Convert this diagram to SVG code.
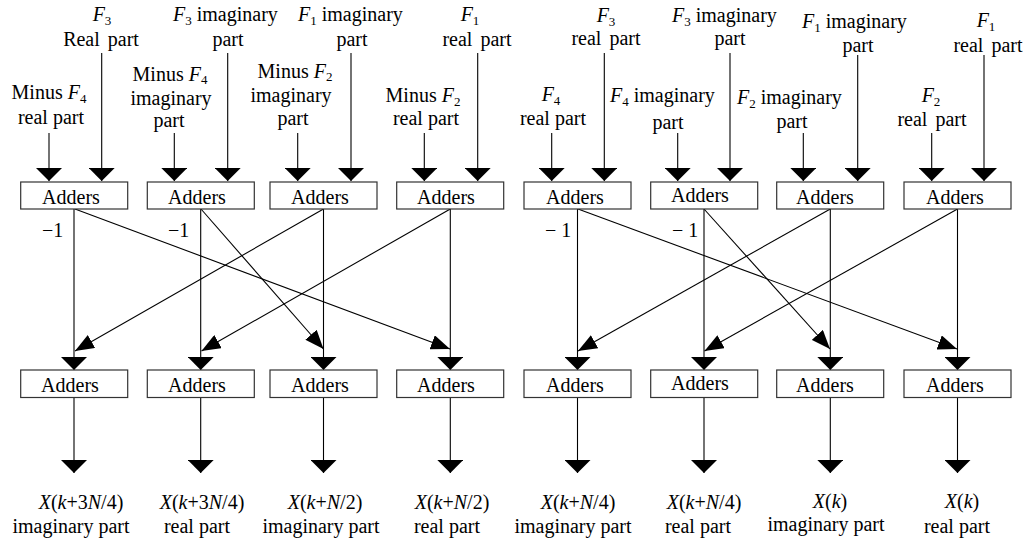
<svg xmlns="http://www.w3.org/2000/svg" width="1027" height="547" viewBox="0 0 1027 547">
<style>
.t{font-family:"Liberation Serif","Times New Roman",serif;font-size:20px;fill:#000}
.m{text-anchor:middle}
.i{font-style:italic}
.s{font-size:13px}
.box{fill:#fff;stroke:#333;stroke-width:1.2}
.ln{stroke:#000;stroke-width:1.1;fill:none}
.v{marker-end:url(#ah)}
.d{marker-end:url(#ad)}
</style>
<defs>
<marker id="ah" viewBox="0 0 13 26" refX="13" refY="13" markerWidth="13" markerHeight="26" markerUnits="userSpaceOnUse" orient="auto"><path d="M0,0 L13,13 L0,26 z" fill="#000"/></marker>
<marker id="ad" viewBox="0 0 19 15" refX="19" refY="7.5" markerWidth="19" markerHeight="15" markerUnits="userSpaceOnUse" orient="auto"><path d="M0,0 L19,7.5 L0,15 z" fill="#000"/></marker>
</defs>
<rect width="1027" height="547" fill="#fff"/>

<g id="input-labels" class="t">
<g id="in-1">
<text x="102" y="21" class="m"><tspan class="i">F</tspan><tspan class="s" dy="4">3</tspan></text>
<text x="101" y="46" class="m" word-spacing="3">Real part</text>
<text x="49" y="99" class="m">Minus <tspan class="i">F</tspan><tspan class="s" dy="4">4</tspan></text>
<text x="51" y="124" class="m">real part</text>
</g>
<g id="in-2">
<text x="170" y="81" class="m">Minus <tspan class="i">F</tspan><tspan class="s" dy="3">4</tspan></text>
<text x="171" y="105" class="m">imaginary</text>
<text x="169" y="127" class="m">part</text>
<text x="173" y="21"><tspan class="i">F</tspan><tspan class="s" dy="4">3</tspan><tspan dy="-4"> imaginary</tspan></text>
<text x="228" y="46" class="m">part</text>
</g>
<g id="in-3">
<text x="295" y="78" class="m">Minus <tspan class="i">F</tspan><tspan class="s" dy="3">2</tspan></text>
<text x="291" y="102" class="m">imaginary</text>
<text x="293" y="125" class="m">part</text>
<text x="298" y="21"><tspan class="i">F</tspan><tspan class="s" dy="4">1</tspan><tspan dy="-4"> imaginary</tspan></text>
<text x="352" y="46" class="m">part</text>
</g>
<g id="in-4">
<text x="423" y="102" class="m">Minus <tspan class="i">F</tspan><tspan class="s" dy="4">2</tspan></text>
<text x="426" y="125" class="m">real part</text>
<text x="470" y="21" class="m"><tspan class="i">F</tspan><tspan class="s" dy="4">1</tspan></text>
<text x="477" y="46" class="m" word-spacing="3">real part</text>
</g>
<g id="in-5">
<text x="606" y="22" class="m"><tspan class="i">F</tspan><tspan class="s" dy="4">3</tspan></text>
<text x="606" y="45" class="m" word-spacing="3">real part</text>
<text x="551" y="101" class="m"><tspan class="i">F</tspan><tspan class="s" dy="4">4</tspan></text>
<text x="553" y="125" class="m">real part</text>
</g>
<g id="in-6">
<text x="610" y="102"><tspan class="i">F</tspan><tspan class="s" dy="4">4</tspan><tspan dy="-4"> imaginary</tspan></text>
<text x="668" y="129" class="m">part</text>
<text x="672" y="22"><tspan class="i">F</tspan><tspan class="s" dy="4">3</tspan><tspan dy="-4"> imaginary</tspan></text>
<text x="730" y="45" class="m">part</text>
</g>
<g id="in-7">
<text x="737" y="104"><tspan class="i">F</tspan><tspan class="s" dy="4">2</tspan><tspan dy="-4"> imaginary</tspan></text>
<text x="792" y="128" class="m">part</text>
<text x="802" y="28"><tspan class="i">F</tspan><tspan class="s" dy="4">1</tspan><tspan dy="-4"> imaginary</tspan></text>
<text x="858" y="52" class="m">part</text>
</g>
<g id="in-8">
<text x="986" y="27" class="m"><tspan class="i">F</tspan><tspan class="s" dy="4">1</tspan></text>
<text x="988" y="52" class="m" word-spacing="3">real part</text>
<text x="931" y="102" class="m"><tspan class="i">F</tspan><tspan class="s" dy="4">2</tspan></text>
<text x="932" y="126" class="m" word-spacing="3">real part</text>
</g>
</g>

<g id="connectors" class="ln">
<!-- inputs -->
<path class="v" d="M49,133 V181"/><path class="v" d="M101.7,53 V181"/>
<path class="v" d="M174.3,133 V181"/><path class="v" d="M227.7,53 V181"/>
<path class="v" d="M297.7,133 V181"/><path class="v" d="M351,53 V181"/>
<path class="v" d="M424.3,133 V181"/><path class="v" d="M477.7,53 V181"/>
<path class="v" d="M551.7,133 V181"/><path class="v" d="M604.3,53 V181"/>
<path class="v" d="M677.7,133 V181"/><path class="v" d="M730,53 V181"/>
<path class="v" d="M803.3,133 V181"/><path class="v" d="M857.7,55 V181"/>
<path class="v" d="M931.7,133 V181"/><path class="v" d="M984,55 V181"/>
<!-- verticals between stages -->
<path class="v" d="M74,209 V370"/>
<path class="v" d="M200.7,209 V370"/>
<path class="v" d="M323.5,209 V370"/>
<path class="v" d="M450.3,209 V370"/>
<path class="v" d="M577.5,209 V370"/>
<path class="v" d="M704,209 V370"/>
<path class="v" d="M830.3,209 V370"/>
<path class="v" d="M957.5,209 V370"/>
<!-- diagonals -->
<path class="d" d="M75,209 L450,349"/>
<path class="d" d="M201,209 L323.5,349"/>
<path class="d" d="M323.5,209 L75,351"/>
<path class="d" d="M450.3,209 L201.5,351"/>
<path class="d" d="M578,209 L957,349"/>
<path class="d" d="M704,209 L830,349"/>
<path class="d" d="M830.3,209 L578,351"/>
<path class="d" d="M957.5,209 L704.5,351"/>
<!-- outputs -->
<path class="v" d="M74,397.5 V473"/>
<path class="v" d="M200.7,397.5 V473"/>
<path class="v" d="M323.5,397.5 V473"/>
<path class="v" d="M450.3,397.5 V473"/>
<path class="v" d="M577.5,397.5 V473"/>
<path class="v" d="M704,397.5 V473"/>
<path class="v" d="M830.3,397.5 V473"/>
<path class="v" d="M957.5,397.5 V473"/>
</g>

<g id="minus-labels" class="t">
<text x="42" y="237">−1</text>
<text x="168" y="237">−1</text>
<text x="545" y="237">− 1</text>
<text x="672" y="237">− 1</text>
</g>

<g class="t">
<g id="a1"><rect class="box" x="20.7" y="182" width="107" height="27"/><text x="71" y="204" class="m">Adders</text></g>
<g id="a2"><rect class="box" x="147.3" y="182" width="107" height="27"/><text x="197" y="204" class="m">Adders</text></g>
<g id="a3"><rect class="box" x="270" y="182" width="107" height="27"/><text x="320" y="204" class="m">Adders</text></g>
<g id="a4"><rect class="box" x="396.7" y="182" width="107" height="27"/><text x="446" y="204" class="m">Adders</text></g>
<g id="a5"><rect class="box" x="524" y="182" width="107" height="27"/><text x="575" y="204" class="m">Adders</text></g>
<g id="a6"><rect class="box" x="650.7" y="182" width="107" height="27"/><text x="700" y="202" class="m">Adders</text></g>
<g id="a7"><rect class="box" x="776.7" y="182" width="107" height="27"/><text x="825" y="204" class="m">Adders</text></g>
<g id="a8"><rect class="box" x="904" y="182" width="107" height="27"/><text x="955" y="204" class="m">Adders</text></g>
<g id="b1"><rect class="box" x="20.7" y="370" width="107" height="27.5"/><text x="70" y="392" class="m">Adders</text></g>
<g id="b2"><rect class="box" x="147.3" y="370" width="107" height="27.5"/><text x="197" y="392" class="m">Adders</text></g>
<g id="b3"><rect class="box" x="270" y="370" width="107" height="27.5"/><text x="320" y="392" class="m">Adders</text></g>
<g id="b4"><rect class="box" x="396.7" y="370" width="107" height="27.5"/><text x="446" y="392" class="m">Adders</text></g>
<g id="b5"><rect class="box" x="524" y="370" width="107" height="27.5"/><text x="575" y="392" class="m">Adders</text></g>
<g id="b6"><rect class="box" x="650.7" y="370" width="107" height="27.5"/><text x="700" y="390" class="m">Adders</text></g>
<g id="b7"><rect class="box" x="776.7" y="370" width="107" height="27.5"/><text x="825" y="392" class="m">Adders</text></g>
<g id="b8"><rect class="box" x="904" y="370" width="107" height="27.5"/><text x="955" y="392" class="m">Adders</text></g>
</g>

<g id="output-labels" class="t m">
<g id="out-1"><text x="81" y="509"><tspan class="i">X</tspan>(<tspan class="i">k</tspan>+3<tspan class="i">N</tspan>/4)</text><text x="71" y="533">imaginary part</text></g>
<g id="out-2"><text x="202" y="509"><tspan class="i">X</tspan>(<tspan class="i">k</tspan>+3<tspan class="i">N</tspan>/4)</text><text x="197" y="533">real part</text></g>
<g id="out-3"><text x="325" y="509"><tspan class="i">X</tspan>(<tspan class="i">k</tspan>+<tspan class="i">N</tspan>/2)</text><text x="321" y="533">imaginary part</text></g>
<g id="out-4"><text x="452" y="509"><tspan class="i">X</tspan>(<tspan class="i">k</tspan>+<tspan class="i">N</tspan>/2)</text><text x="447" y="533">real part</text></g>
<g id="out-5"><text x="578" y="509"><tspan class="i">X</tspan>(<tspan class="i">k</tspan>+<tspan class="i">N</tspan>/4)</text><text x="573" y="533">imaginary part</text></g>
<g id="out-6"><text x="704" y="509"><tspan class="i">X</tspan>(<tspan class="i">k</tspan>+<tspan class="i">N</tspan>/4)</text><text x="698" y="533">real part</text></g>
<g id="out-7"><text x="830" y="508"><tspan class="i">X</tspan>(<tspan class="i">k</tspan>)</text><text x="826" y="531">imaginary part</text></g>
<g id="out-8"><text x="962" y="508"><tspan class="i">X</tspan>(<tspan class="i">k</tspan>)</text><text x="957" y="533">real part</text></g>
</g>
</svg>
